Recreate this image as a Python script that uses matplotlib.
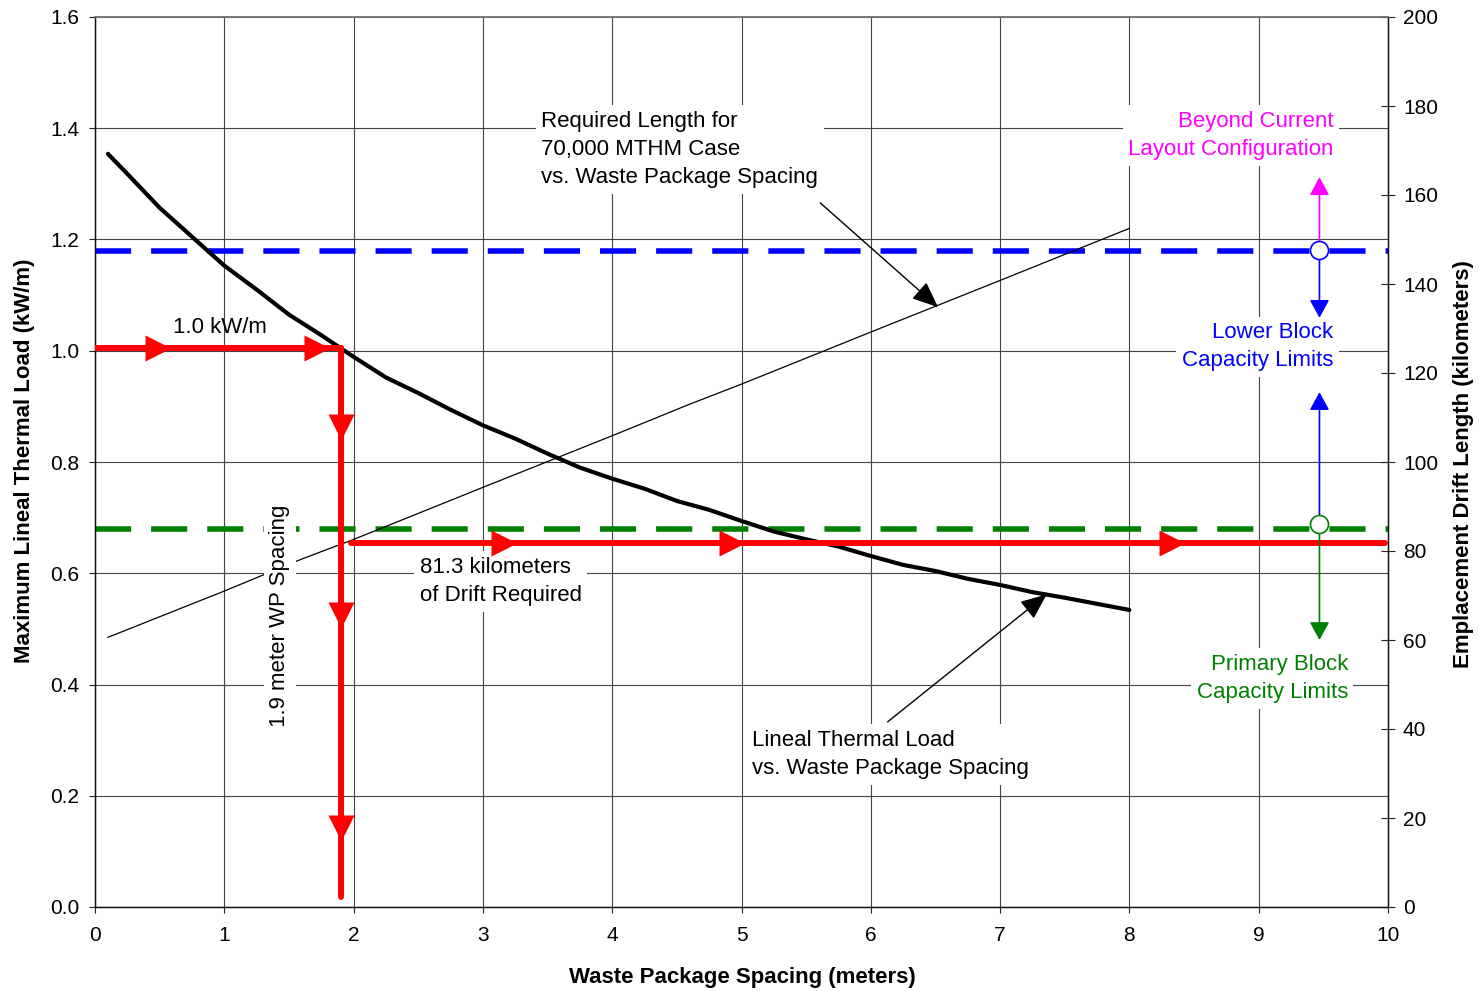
import numpy as np
import matplotlib
matplotlib.use("Agg")
import matplotlib.pyplot as plt

plt.rcParams["font.family"] = ["Liberation Sans", "DejaVu Sans"]
plt.rcParams["font.size"] = 15

# Lineal thermal load (kW/m) vs. waste package spacing (m), left axis
ltl_spacing = [0.1, 0.25, 0.5, 0.75, 1.0, 1.25, 1.5, 1.75, 2.0, 2.25, 2.5, 2.75,
               3.0, 3.25, 3.5, 3.75, 4.0, 4.25, 4.5, 4.75, 5.0, 5.25, 5.5, 5.75,
               6.0, 6.25, 6.5, 6.75, 7.0, 7.25, 7.5, 7.75, 8.0]
ltl_load = [1.354, 1.318, 1.257, 1.205, 1.153, 1.110, 1.065, 1.028, 0.989, 0.952,
            0.924, 0.894, 0.866, 0.842, 0.815, 0.790, 0.770, 0.752, 0.730, 0.714,
            0.694, 0.675, 0.661, 0.648, 0.631, 0.615, 0.604, 0.590, 0.579, 0.566,
            0.556, 0.545, 0.534]

# Required drift length (km) for 70,000 MTHM vs. spacing, right axis
drift_spacing = [0.1, 1.0, 1.6, 2.0, 3.0, 4.0, 4.6, 5.0, 6.0, 7.0, 8.0]
drift_length = [60.6, 71.0, 78.2, 82.6, 94.3, 105.9, 113.0, 117.5, 129.2, 140.8, 152.5]

# capacity limits
lower_block_load = 1.18      # kW/m (blue)
primary_block_load = 0.68    # kW/m (green)
lower_block_km = 147.6
primary_block_km = 86.0
limit_marker_x = 9.47

# worked example (red path)
target_load = 1.005
target_spacing = 1.9
path_bottom = 0.018
result_drift = 81.8
result_start_x = 1.98
result_end_x = 9.98
arrows_top = [0.49, 1.72]
arrows_down = [0.863, 0.525, 0.142]
arrows_right = [3.16, 4.93, 8.33]

RED = "#ff0000"
BLUE = "#0000ff"
GREEN = "#008000"
MAGENTA = "#ff00ff"
GRID = "#444444"
FS = 16

fig = plt.figure(figsize=(14.79, 9.91), dpi=100)
ax = fig.add_axes([95 / 1479, 84 / 991, 1293 / 1479, 890 / 991])
ax2 = ax.twinx()

ax.set_xlim(0, 10)
ax.set_ylim(0, 1.6)
ax2.set_ylim(0, 200)
ax.set_xticks(range(0, 11))
ax.set_yticks(np.arange(0, 1.61, 0.2))
ax.set_yticklabels([f"{v:.1f}" for v in np.arange(0, 1.61, 0.2)])
ax2.set_yticks(range(0, 201, 20))
ax.grid(True, color=GRID, lw=0.8)
ax.set_axisbelow(True)

ax.tick_params(axis="both", direction="out", length=4.5, width=0.8, pad=7,
               labelsize=15, color="#222222")
ax.tick_params(axis="x", pad=9)
ax2.tick_params(axis="y", direction="inout", length=9.5, width=0.8, pad=6,
                labelsize=15, color="#222222")
for a in (ax, ax2):
    for side in ("left", "bottom", "right"):
        a.spines[side].set_color("#111111")
        a.spines[side].set_linewidth(0.9)
    a.spines["top"].set_color("#777777")
    a.spines["top"].set_linewidth(1.2)

# curves
ax.plot(ltl_spacing, ltl_load, color="black", lw=3.0, solid_capstyle="round", zorder=3)
ax2.plot(drift_spacing, drift_length, color="black", lw=0.9, zorder=2)

# capacity limit lines
ax.axhline(lower_block_load, color=BLUE, lw=4, dashes=(6.5, 3.6), zorder=2)
ax.axhline(primary_block_load, color=GREEN, lw=4, dashes=(6.5, 3.6), zorder=2)

# red path
ax2.plot([0, target_spacing], [target_load, target_load], color=RED, lw=4.3,
         solid_capstyle="round", zorder=6, transform=ax.transData)
ax2.plot([target_spacing, target_spacing], [target_load, path_bottom], color=RED, lw=4.3,
         solid_capstyle="round", solid_joinstyle="round", zorder=6, transform=ax.transData)
ax2.plot([result_start_x, result_end_x], [result_drift, result_drift], color=RED, lw=4.3,
         solid_capstyle="round", zorder=6)
ax2.plot(arrows_top, [target_load] * len(arrows_top), ">", color=RED, ms=19,
         mec="none", zorder=7, transform=ax.transData)
ax2.plot([target_spacing] * len(arrows_down), arrows_down, "v", color=RED, ms=19,
         mec="none", zorder=7, transform=ax.transData)
ax2.plot(arrows_right, [result_drift] * len(arrows_right), ">", color=RED, ms=19,
         mec="none", zorder=7)


# limit arrows and markers
def vert_arrow(y0, y1, color):
    ax2.annotate("", xy=(limit_marker_x, y1), xytext=(limit_marker_x, y0),
                 arrowprops=dict(arrowstyle="-|>,head_length=0.55,head_width=0.3",
                                 mutation_scale=20, color=color, lw=1.2,
                                 shrinkA=0, shrinkB=0), zorder=6)


vert_arrow(lower_block_km, 164.0, MAGENTA)
vert_arrow(lower_block_km, 132.4, BLUE)
vert_arrow(primary_block_km, 115.7, BLUE)
vert_arrow(primary_block_km, 60.0, GREEN)
ax2.plot([limit_marker_x], [lower_block_km], "o", ms=13, mfc="white", mec=BLUE,
         mew=1.2, zorder=8)
ax2.plot([limit_marker_x], [primary_block_km], "o", ms=13, mfc="white", mec=GREEN,
         mew=1.2, zorder=8)

box = dict(fc="white", ec="none", pad=4)
LS = 1.45
ax2.text(3.45, 178.9, "Required Length for\n70,000 MTHM Case\nvs. Waste Package Spacing",
         ha="left", va="top", fontsize=FS, linespacing=LS, bbox=box, zorder=5)
ax2.annotate("", xy=(6.52, 134.8), xytext=(5.61, 158.2),
             arrowprops=dict(arrowstyle="-|>,head_length=0.9,head_width=0.38",
                             mutation_scale=18, color="black", lw=1,
                             shrinkA=0, shrinkB=0), zorder=6)
ax2.text(5.08, 39.8, "Lineal Thermal Load\nvs. Waste Package Spacing",
         ha="left", va="top", fontsize=FS, linespacing=LS, bbox=box, zorder=5)
ax2.annotate("", xy=(7.36, 0.562), xycoords=ax.transData, xytext=(6.13, 41.6),
             textcoords=ax2.transData,
             arrowprops=dict(arrowstyle="-|>,head_length=0.9,head_width=0.38",
                             mutation_scale=18, color="black", lw=1,
                             shrinkA=0, shrinkB=0), zorder=6)
ax2.text(2.51, 78.7, "81.3 kilometers\nof Drift Required",
         ha="left", va="top", fontsize=FS, linespacing=LS, bbox=box, zorder=5)
ax2.text(1.43, 65.4, "1.9 meter WP Spacing", rotation=90, ha="center", va="center",
         fontsize=FS, bbox=box, zorder=5)
ax2.text(0.97, 1.041, "1.0 kW/m", ha="center", va="center", fontsize=FS,
         transform=ax.transData, zorder=5)
ax2.text(9.58, 178.9, "Beyond Current\nLayout Configuration", color=MAGENTA,
         ha="right", va="top", fontsize=FS, linespacing=LS, bbox=box, zorder=5)
ax2.text(9.575, 131.4, "Lower Block\nCapacity Limits", color=BLUE,
         ha="right", va="top", fontsize=FS, linespacing=LS, bbox=box, zorder=5)
ax2.text(9.69, 56.9, "Primary Block\nCapacity Limits", color=GREEN,
         ha="right", va="top", fontsize=FS, linespacing=LS, bbox=box, zorder=5)

fig.text(25 / 1479, 1 - 461 / 991, "Maximum Lineal Thermal Load (kW/m)", rotation=90,
         ha="center", va="center", fontsize=FS, fontweight="bold")
fig.text(1463 / 1479, 1 - 464 / 991, "Emplacement Drift Length (kilometers)", rotation=90,
         ha="center", va="center", fontsize=FS, fontweight="bold")
fig.text(742 / 1479, 1 - 977 / 991, "Waste Package Spacing (meters)",
         ha="center", va="center", fontsize=FS, fontweight="bold")

fig.savefig("out.png", dpi=100)
